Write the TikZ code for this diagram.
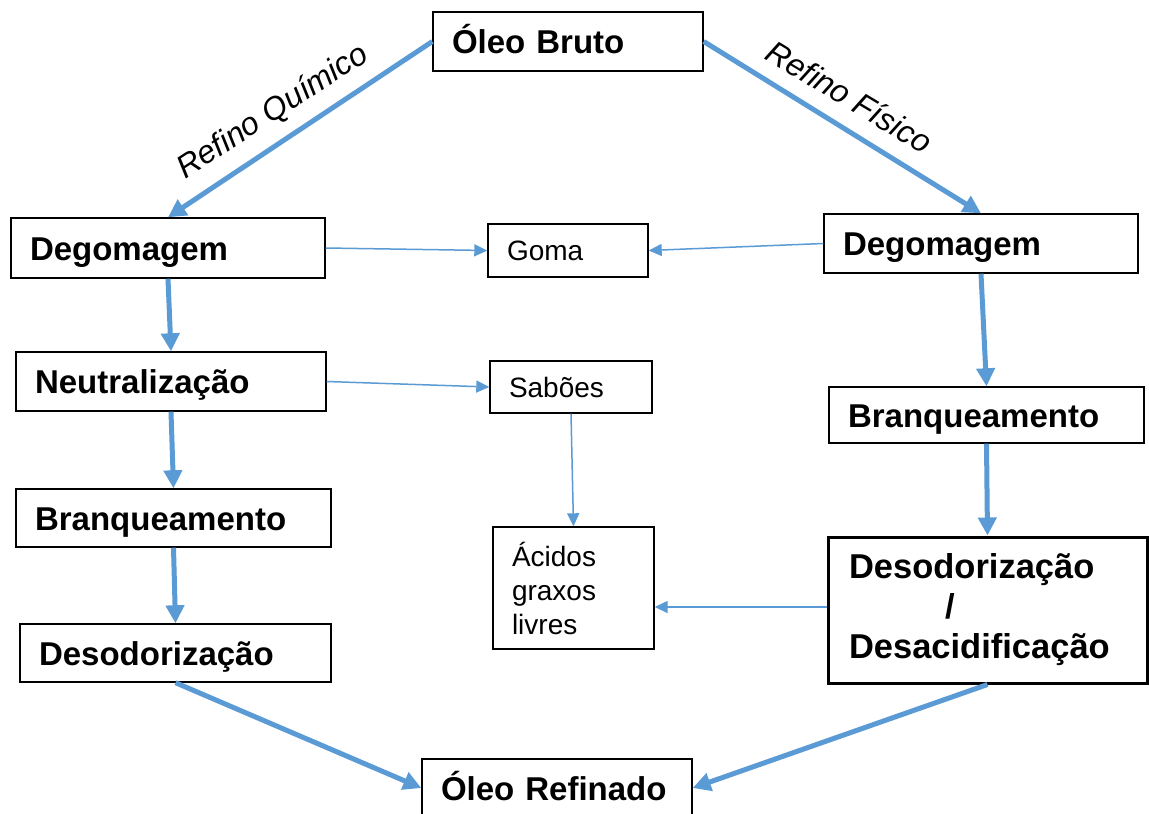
\documentclass[tikz,border=0pt]{standalone}
\usepackage{fontspec}
\setmainfont{Liberation Sans}
\usetikzlibrary{arrows.meta}
\definecolor{arrowblue}{HTML}{5B9BD5}
\begin{document}
\begin{tikzpicture}[x=1pt,y=-1pt,
  box/.style={draw=black, line width=1.4pt, fill=white, inner xsep=19pt, inner ysep=0pt, align=left},
  bigtxt/.style={font=\fontsize{33}{40}\selectfont\bfseries, text height=24pt, text depth=0pt},
  smalltxt/.style={font=\fontsize{28}{34}\selectfont},
  flow/.style={draw=arrowblue, line width=5pt, -{Triangle[length=18pt,width=18pt]}},
  side/.style={draw=arrowblue, line width=1.5pt, -{Triangle[length=13pt,width=12pt]}},
  lab/.style={font=\fontsize{32}{38}\selectfont\itshape, inner sep=0pt}
]
\useasboundingbox (0,0) rectangle (1149,814);
\fill[white] (0,0) rectangle (1149,814);
\clip (0,0) rectangle (1149,814);

% nodes
\node[box, bigtxt, text width=232pt, minimum height=59pt] (ob) at (568,41.5) {Óleo Bruto};
\node[box, bigtxt, text width=276pt, minimum height=60pt] (ld) at (168,248) {Degomagem};
\node[box, bigtxt, text width=276pt, minimum height=59pt] (rd) at (981,243.5) {Degomagem};
\node[box, smalltxt, text height=20pt, text depth=0pt, text width=122pt, minimum height=53pt] (goma) at (568,250.5) {Goma};
\node[box, bigtxt, text width=272pt, minimum height=59pt] (neut) at (171,381.5) {Neutralização};
\node[box, smalltxt, text height=20pt, text depth=0pt, text width=124pt, minimum height=52pt] (sab) at (571,387) {Sabões};
\node[box, bigtxt, text width=277pt, minimum height=56pt] (rb) at (986.5,415) {Branqueamento};
\node[box, bigtxt, text width=277pt, minimum height=58pt] (lb) at (173.5,518) {Branqueamento};
\node[box, smalltxt, text width=123pt, minimum height=122pt] (acid) at (573.5,588) {Ácidos\\graxos\\livres};
\node[box, font=\fontsize{34.5}{40}\selectfont\bfseries, line width=3pt, inner xsep=21pt, text width=277pt, minimum height=146pt] (dd) at (987.5,610) {Desodorização\\\hspace*{96pt}/\\Desacidificação};
\node[box, bigtxt, text width=273pt, minimum height=58pt] (lds) at (175.5,653) {Desodorização};
\node[box, bigtxt, text width=232pt, minimum height=58pt] (or) at (557,788) {Óleo Refinado};

% labels
\node[lab, rotate=33] (lq) at (273,112) {Refino Químico};
\node[lab, rotate=-31] (lf) at (849.5,96.5) {Refino Físico};

% thick flow arrows
\draw[flow] (ob.west) -- (ld.north);
\draw[flow] (ob.east) -- (rd.north);
\draw[flow] (ld.south) -- (neut.north);
\draw[flow] (neut.south) -- (lb.north);
\draw[flow] (lb.south) -- (lds.north);
\draw[flow] (lds.south) -- (or.west);
\draw[flow] (rd.south) -- (rb.north);
\draw[flow] (rb.south) -- (dd.north);
\draw[flow] (dd.south) -- (or.east);

% thin side arrows
\draw[side] (ld.east) -- (goma.west);
\draw[side] (rd.west) -- (goma.east);
\draw[side] (neut.east) -- (sab.west);
\draw[side] (sab.south) -- (acid.north);
\draw[side] ([yshift=3pt]dd.west) -- ([yshift=3pt]dd.west -| acid.east);
\end{tikzpicture}
\end{document}
